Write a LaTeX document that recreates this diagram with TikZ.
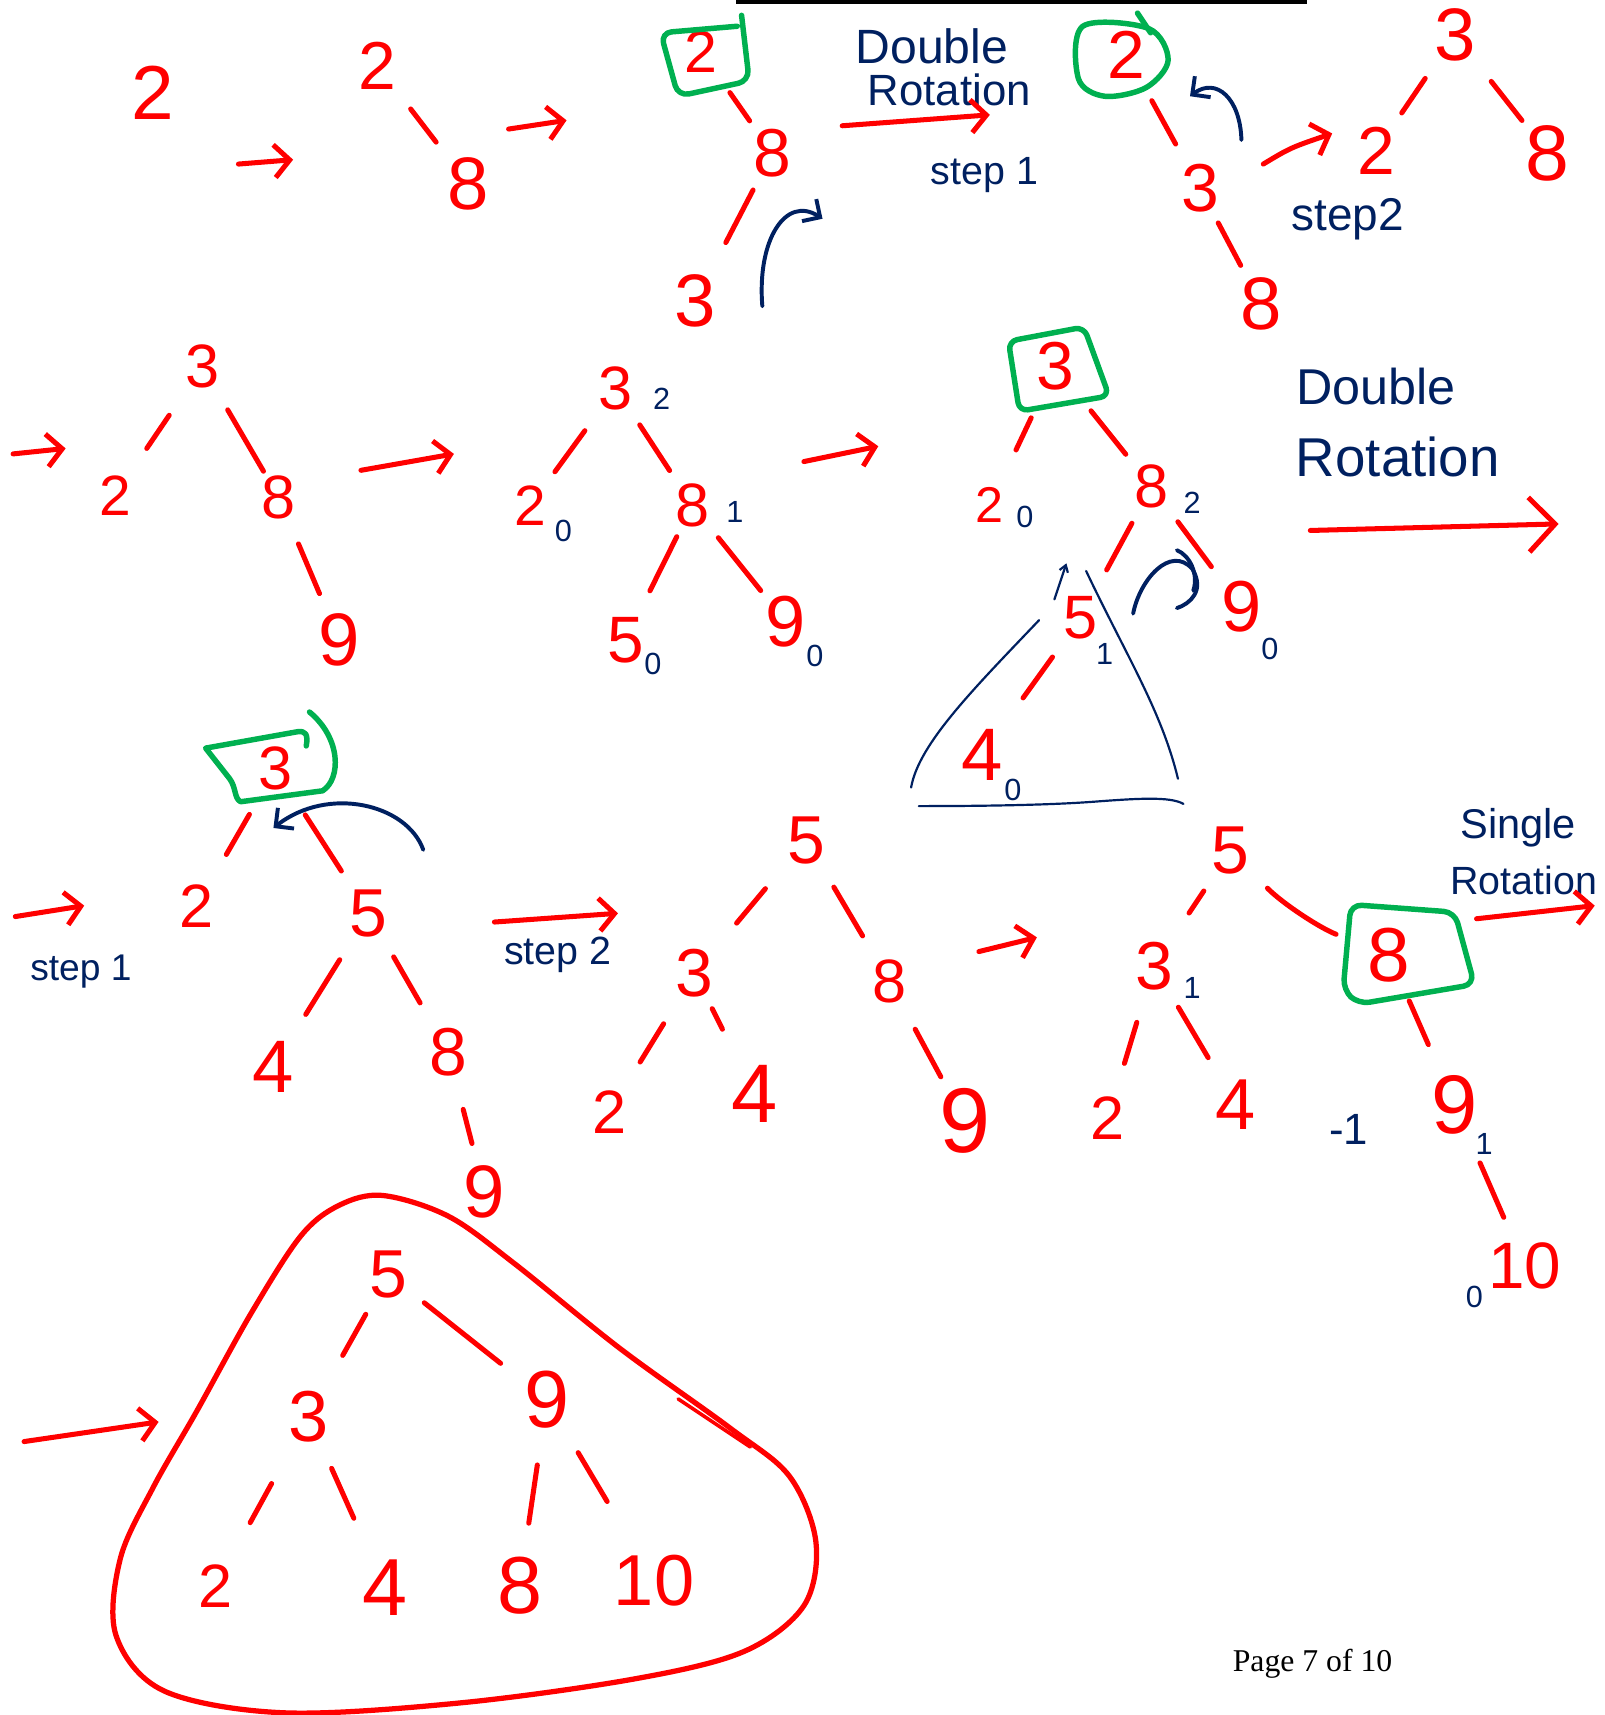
\documentclass[tikz,border=0pt]{standalone}
\usepackage{fontspec}
\setmainfont{Liberation Sans}
\newfontfamily\pagefont{Liberation Serif}
\usetikzlibrary{arrows.meta,calc}
\definecolor{navy}{RGB}{0,32,96}
\definecolor{grn}{RGB}{0,176,80}
\begin{document}
\begin{tikzpicture}[x=0.5pt,y=-0.5pt,
  dig/.style={text=red,inner sep=0pt,font=\fontsize{#1}{#1}\selectfont},
  dig/.default=31,
  bal/.style={text=navy,inner sep=0pt,font=\fontsize{14}{14}\selectfont},
  ntext/.style={text=navy,inner sep=0pt,font=\fontsize{#1}{#1}\selectfont},
  tedge/.style 2 args={red,line width=2.3pt,line cap=round,shorten <=#1,shorten >=#2},
  mv/.style={red,line width=2.3pt,line cap=round,-{Straight Barb[length=7pt,width=15pt,line width=2.3pt]}},
  rot/.style={navy,line width=1.8pt,line cap=round,-{Straight Barb[length=6pt,width=12pt,line width=1.8pt]}},
  gbox/.style={grn,line width=2.5pt,line cap=round,line join=round},
  thin/.style={navy,line width=1pt,line cap=round},
]
\useasboundingbox (0,0) rectangle (1467,1568);
\fill[black] (673,0) rectangle (1195,4);

% ---------------- row 1 ----------------
\node[dig=35] (a1) at (140,85) {2};
\coordinate (r1s) at (218,150); \coordinate (r1e) at (268,146);
\draw[mv] (r1s) -- (r1e);

\node[dig] (b2) at (345,60) {2};
\node[dig=34] (b8) at (428,168) {8};
\draw[tedge={25pt}{24pt}] (b2.center) -- (b8.center);
\coordinate (r2s) at (465,118); \coordinate (r2e) at (518,110);
\draw[mv] (r2s) -- (r2e);

\node[dig=27] (c2) at (641,47) {2};
\draw[gbox,rounded corners=5pt] (674,24) -- (604,30) -- (620,88) -- (685,74) -- (678,14);
\node[dig] (c8) at (706,140) {8};
\node[dig=34] (c3) at (636,275) {3};
\draw[tedge={23pt}{18pt}] (c2.center) -- (c8.center);
\draw[tedge={19pt}{30pt}] (c8.center) -- (c3.center);
\coordinate (q1s) at (697,280); \coordinate (q1e) at (752,200);
\draw[rot] (q1s) .. controls (692,220) and (718,178) .. (q1e);

\node[ntext=22] (t1) at (852,42) {Double};
\node[ntext=20] (t2) at (868,82) {Rotation};
\coordinate (r3s) at (770,115); \coordinate (r3e) at (905,105);
\draw[mv] (r3s) -- (r3e);
\node[ntext=18] (t3) at (900,160) {step 1};

\node[dig] (d2) at (1030,50) {2};
\draw[gbox] plot[smooth cycle,tension=0.55] coordinates {(990,24) (1050,26) (1068,55) (1048,80) (1010,88) (986,72)};
\draw[gbox] (1040,12) -- (1052,30);
\node[dig] (d3) at (1097,172) {3};
\node[dig=34] (d8) at (1153,278) {8};
\draw[tedge={24pt}{23pt}] (d2.center) -- (d3.center);
\draw[tedge={18pt}{20pt}] (d3.center) -- (d8.center);
\coordinate (q2s) at (1135,128); \coordinate (q2e) at (1088,88);
\draw[rot] (q2s) .. controls (1134,90) and (1112,70) .. (q2e);

\coordinate (r4s) at (1155,150); \coordinate (r4e) at (1218,122);
\draw[mv] (r4s) .. controls (1180,135) .. (r4e);
\node[ntext=21] (t4) at (1232,200) {step2};

\node[dig=34] (e3) at (1330,32) {3};
\node[dig] (e2) at (1258,138) {2};
\node[dig=36] (e8) at (1415,140) {8};
\draw[tedge={24pt}{21pt}] (e3.center) -- (e2.center);
\draw[tedge={27pt}{19pt}] (e3.center) -- (e8.center);

% ---------------- row 2 ----------------
\coordinate (r5s) at (12,415); \coordinate (r5e) at (60,410);
\draw[mv] (r5s) -- (r5e);
\node[dig=28] (f3) at (185,335) {3};
\node[dig=26] (f2) at (105,453) {2};
\node[dig=28] (f8) at (255,455) {8};
\node[dig=34] (f9) at (310,585) {9};
\draw[tedge={27pt}{26pt}] (f3.center) -- (f2.center);
\draw[tedge={23pt}{14pt}] (f3.center) -- (f8.center);
\draw[tedge={23pt}{23pt}] (f8.center) -- (f9.center);
\coordinate (r6s) at (330,430); \coordinate (r6e) at (415,415);
\draw[mv] (r6s) -- (r6e);

\node[dig=28] (g3) at (563,355) {3};  \node[bal] (g3b) at (605,365) {2};
\node[dig=26] (g2) at (485,462) {2};  \node[bal] (g2b) at (515,485) {0};
\node[dig=28] (g8) at (633,462) {8};  \node[bal] (g8b) at (672,468) {1};
\node[dig=30] (g5) at (572,585) {5};  \node[bal] (g5b) at (597,607) {0};
\node[dig=33] (g9) at (718,568) {9};  \node[bal] (g9b) at (745,600) {0};
\draw[tedge={24pt}{19pt}] (g3.center) -- (g2.center);
\draw[tedge={20pt}{19pt}] (g3.center) -- (g8.center);
\draw[tedge={16pt}{25pt}] (g8.center) -- (g5.center);
\draw[tedge={19pt}{18pt}] (g8.center) -- (g9.center);
\coordinate (r7s) at (735,422); \coordinate (r7e) at (803,408);
\draw[mv] (r7s) -- (r7e);

\node[dig] (h3) at (965,335) {3};
\draw[gbox,rounded corners=4pt] (922,312) -- (991,299) -- (1014,362) -- (932,376) -- cycle;
\node[dig=23] (h2) at (905,462) {2};  \node[bal] (h2b) at (937,473) {0};
\node[dig=28] (h8) at (1053,445) {8}; \node[bal] (h8b) at (1090,460) {2};
\node[dig=28] (h5) at (988,565) {5};  \node[bal] (h5b) at (1010,598) {1};
\node[dig=33] (h9) at (1135,555) {9}; \node[bal] (h9b) at (1161,593) {0};
\node[dig=34] (h4) at (898,690) {4};  \node[bal] (h4b) at (926,722) {0};
\draw[tedge={26pt}{28pt}] (h3.center) -- (h2.center);
\draw[tedge={26pt}{19pt}] (h3.center) -- (h8.center);
\draw[tedge={19pt}{25pt}] (h8.center) -- (h5.center);
\draw[tedge={20pt}{23pt}] (h8.center) -- (h9.center);
\draw[tedge={22pt}{32pt}] (h5.center) -- (h4.center);
% subtree triangle
\draw[thin] (950,567) .. controls (890,630) and (840,680) .. (833,720);
\draw[thin] (993,522) .. controls (1030,600) and (1062,650) .. (1077,712);
\draw[thin] (840,737) .. controls (900,737) and (960,736) .. (1000,733) .. controls (1040,730) and (1070,728) .. (1082,735);
\draw[thin,-{Straight Barb[length=3pt,width=4pt]}] (964,548) -- (975,515);
% rotation mark
\draw[navy,line width=1.8pt,line cap=round] (1036,561) .. controls (1042,530) and (1070,498) .. (1090,520) .. controls (1102,540) and (1088,552) .. (1076,556);
\draw[navy,line width=1.8pt,line cap=round] (1076,503) .. controls (1088,508) and (1096,525) .. (1091,540);

\node[ntext=23] (t5) at (1258,353) {Double};
\node[ntext=25] (t6) at (1278,418) {Rotation};
\coordinate (r8s) at (1198,485); \coordinate (r8e) at (1425,479);
\draw[red,line width=2.3pt,line cap=round,-{Straight Barb[length=12pt,width=25pt,line width=2.3pt]}] (r8s) -- (r8e);

% ---------------- row 3 ----------------
\node[dig=28] (i3) at (252,703) {3};
\draw[gbox] (280,682) .. controls (282,671) and (279,668) .. (272,669) -- (188,684) -- (210,712) .. controls (216,720) and (214,730) .. (220,733) -- (295,723) .. controls (312,712) and (312,675) .. (283,651);
\node[dig=28] (i2) at (180,828) {2};
\node[dig] (i5) at (337,835) {5};
\node[dig=34] (i4) at (250,975) {4};
\node[dig] (i8) at (410,962) {8};
\node[dig=34] (i9) at (443,1090) {9};
\draw[tedge={24pt}{27pt}] (i3.center) -- (i2.center);
\draw[tedge={25pt}{23pt}] (i3.center) -- (i5.center);
\draw[tedge={25pt}{28pt}] (i5.center) -- (i4.center);
\draw[tedge={23pt}{26pt}] (i5.center) -- (i8.center);
\draw[tedge={27pt}{23pt}] (i8.center) -- (i9.center);
\coordinate (q3s) at (387,777); \coordinate (q3e) at (250,757);
\draw[rot] (q3s) .. controls (372,735) and (300,718) .. (q3e);
\coordinate (r9s) at (14,838); \coordinate (r9e) at (77,828);
\draw[mv] (r9s) -- (r9e);
\node[ntext=17] (t7) at (74,888) {step 1};
\coordinate (r10s) at (452,843); \coordinate (r10e) at (565,835);
\draw[mv] (r10s) -- (r10e);
\node[ntext=18] (t8) at (510,873) {step 2};

\node[dig] (j5) at (737,768) {5};
\node[dig] (j3) at (635,890) {3};
\node[dig=28] (j8) at (813,897) {8};
\node[dig=28] (j2) at (557,1017) {2};
\node[dig=38] (j4) at (690,1000) {4};
\node[dig=42] (j9) at (882,1025) {9};
\draw[tedge={29pt}{30pt}] (j5.center) -- (j3.center);
\draw[tedge={25pt}{24pt}] (j5.center) -- (j8.center);
\draw[tedge={27pt}{27pt}] (j3.center) -- (j2.center);
\draw[tedge={18pt}{33pt}] (j3.center) -- (j4.center);
\draw[tedge={25pt}{23pt}] (j8.center) -- (j9.center);
\coordinate (r11s) at (895,870); \coordinate (r11e) at (948,857);
\draw[mv] (r11s) -- (r11e);

\node[dig] (k5) at (1125,778) {5};
\node[dig] (k3) at (1055,883) {3};    \node[bal] (k3b) at (1090,903) {1};
\node[dig=28] (k2) at (1013,1022) {2};
\node[dig=33] (k4) at (1130,1010) {4};
\node[ntext=20] (km) at (1233,1033) {-1};
\node[dig=35] (k8) at (1270,873) {8};
\draw[gbox,rounded corners=5pt] (1235,827) -- (1330,834) -- (1348,900) -- (1242,918) -- (1228,905) -- cycle;
\node[dig=38] (k9) at (1330,1010) {9}; \node[bal] (k9b) at (1357,1046) {1};
\node[dig=30] (k10) at (1394,1157) {10}; \node[bal] (k10b) at (1348,1186) {0};
\draw[tedge={22pt}{29pt}] (k5.center) -- (k3.center);
\draw[tedge={24pt}{26pt}] (k5.center) to[bend right=12] (k8.center);
\draw[tedge={27pt}{26pt}] (k3.center) -- (k2.center);
\draw[tedge={22pt}{25pt}] (k3.center) -- (k4.center);
\draw[tedge={23pt}{30pt}] (k8.center) -- (k9.center);
\draw[tedge={29pt}{24pt}] (k9.center) -- (k10.center);
\node[ntext=19] (t9) at (1388,757) {Single};
\node[ntext=18] (t10) at (1393,805) {Rotation};
\coordinate (r12s) at (1350,840); \coordinate (r12e) at (1458,828);
\draw[mv] (r12s) -- (r12e);

% ---------------- row 4 ----------------
\coordinate (r13s) at (22,1318); \coordinate (r13e) at (145,1300);
\draw[mv] (r13s) -- (r13e);
\draw[red,line width=2.4pt] plot[smooth cycle,tension=0.55] coordinates {
 (350,1093) (410,1112) (470,1155) (567,1233) (668,1306) (722,1350) (746,1410)
 (735,1468) (680,1510) (580,1535) (420,1557) (260,1566) (150,1546) (106,1495)
 (110,1425) (140,1360) (180,1290) (230,1200) (275,1130) (310,1102)};
\draw[red,line width=1.6pt,line cap=round] (620,1279) -- (686,1323);
\node[dig] (l5) at (355,1165) {5};
\node[dig=33] (l3) at (282,1295) {3};
\node[dig=37] (l9) at (500,1280) {9};
\node[dig=28] (l2) at (197,1450) {2};
\node[dig=37] (l4) at (352,1452) {4};
\node[dig=37] (l8) at (475,1450) {8};
\node[dig=33] (l10) at (598,1445) {10};
\draw[tedge={21pt}{32pt}] (l5.center) -- (l3.center);
\draw[tedge={21pt}{27pt}] (l5.center) -- (l9.center);
\draw[tedge={35pt}{33pt}] (l3.center) -- (l2.center);
\draw[tedge={26pt}{35pt}] (l3.center) -- (l4.center);
\draw[tedge={30pt}{29pt}] (l9.center) -- (l8.center);
\draw[tedge={28pt}{42pt}] (l9.center) -- (l10.center);

\node[text=black,inner sep=0pt,font=\pagefont\fontsize{14.5}{14.5}\selectfont] (pg) at (1200,1521) {Page 7 of 10};
\end{tikzpicture}
\end{document}
